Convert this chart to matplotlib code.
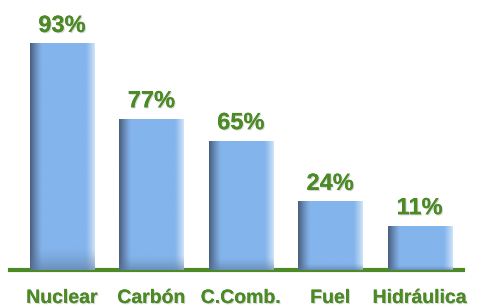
import numpy as np
import matplotlib.pyplot as plt
import matplotlib.patheffects as pe

# Data
categories = ["Nuclear", "Carbón", "C.Comb.", "Fuel", "Hidráulica"]
values = [93, 77, 65, 24, 11]          # printed percentages
bar_heights = [93, 62, 53, 28, 18]     # drawn bar heights

green = "#4b8a25"
mid = np.array([0x84, 0xb4, 0xec]) / 255
dark = np.array([0x4a, 0x60, 0x80]) / 255
light = np.array([0xcc, 0xe2, 0xf8]) / 255
shade = np.array([0x5c, 0x78, 0x9c]) / 255


def bar_image(nx=64, ny=200):
    u = np.linspace(0, 1, nx)
    img = np.tile(mid, (ny, nx, 1))
    left = np.clip(1 - u / 0.18, 0, 1) ** 1.2
    right = np.clip((u - 0.86) / 0.14, 0, 1) ** 1.2
    for c in range(3):
        img[:, :, c] = img[:, :, c] * (1 - left) + dark[c] * left
        img[:, :, c] = img[:, :, c] * (1 - right) + light[c] * right
    v = np.linspace(0, 1, ny)[:, None]  # 0 = top, 1 = bottom
    bot = np.clip((v - 0.9) / 0.1, 0, 1) ** 1.5 * 0.6
    for c in range(3):
        img[:, :, c] = img[:, :, c] * (1 - bot) + shade[c] * bot
    return img


fig = plt.figure(figsize=(4.8, 3.08), dpi=100)
ax = fig.add_axes([0, 0, 1, 1])
ax.set_xlim(-0.6935, 4.6756)
ax.set_ylim(-15.43, 111.3)
ax.axis("off")

width = 0.716
x = np.arange(len(categories))
bars = ax.bar(x, bar_heights, width=width, color="none", edgecolor="none")
for rect in bars:
    x0, w, h = rect.get_x(), rect.get_width(), rect.get_height()
    ny = max(int(h * 2.43), 10)
    ax.imshow(bar_image(64, ny), extent=(x0, x0 + w, 0, h),
              aspect="auto", zorder=2, interpolation="bilinear")

ax.axhline(0, xmin=10 / 480, xmax=463 / 480, color=green, lw=3, zorder=1)

shadow = [pe.withSimplePatchShadow(offset=(0.8, -0.8), shadow_rgbFace="#b0b0b0", alpha=0.5),
          pe.Normal()]
for xi, h, v in zip(x, bar_heights, values):
    ax.annotate(f"{v}%", (xi, h), xytext=(0, 9), textcoords="offset points",
                ha="center", va="baseline", fontsize=17, fontweight="bold",
                color=green, family="Liberation Sans", path_effects=shadow)

for xi, lab in zip(x, categories):
    ax.text(xi, -15.43 + 5 / 2.43, lab, ha="center", va="baseline",
            fontsize=14, fontweight="bold", color=green,
            family="Liberation Sans", path_effects=shadow)

fig.savefig("out.png", dpi=100)
